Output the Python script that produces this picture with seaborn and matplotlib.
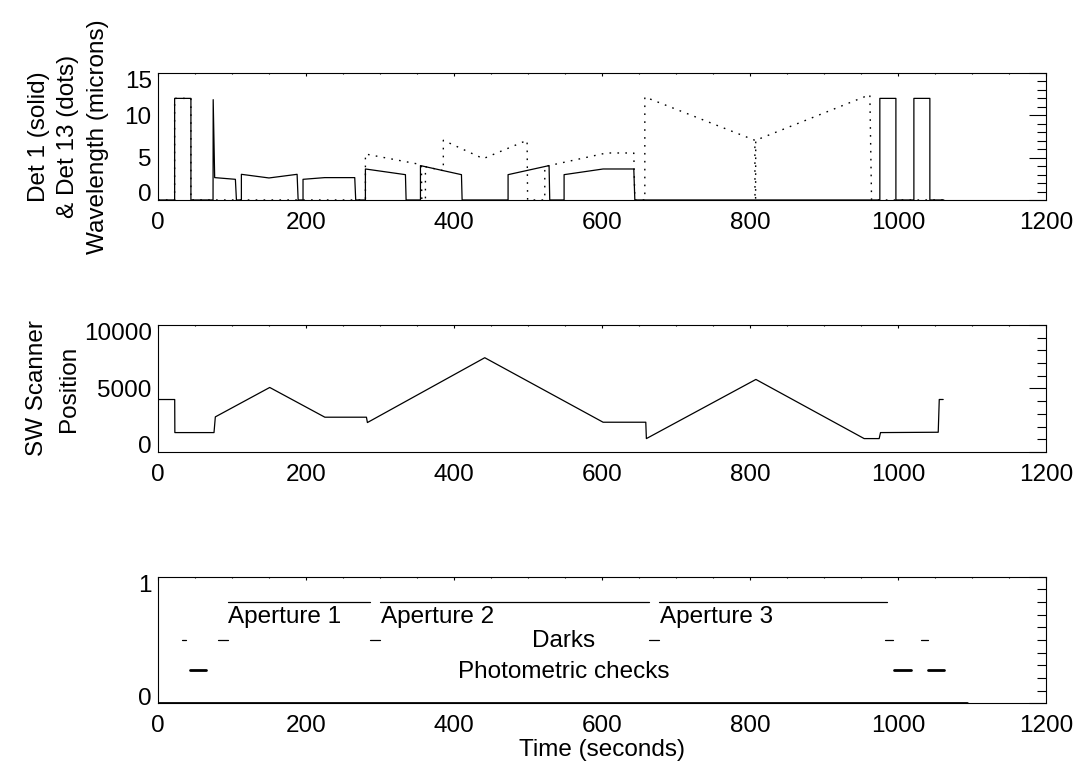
import pandas as pd
import matplotlib.pyplot as plt
import matplotlib.transforms as mtransforms
from matplotlib.ticker import MultipleLocator
import seaborn as sns

# Det 1 wavelength (solid line), time in seconds / microns
det1_t = [0, 22.5, 22.5, 44.5, 44.5, 74.4, 74.6, 76.6, 104.6, 106, 112.7, 112.7, 150, 188, 189.4,
          196, 196, 225.3, 265.9, 267.2, 280.3, 280.3, 334.4, 335.3, 354.7, 354.7, 410.1, 411,
          473.1, 473.1, 528.5, 529.4, 548.8, 548.8, 601.5, 643, 644.4, 975.5, 975.5, 997.2, 997.2,
          1021.5, 1021.5, 1043.1, 1043.1, 1062]
det1_um = [0, 0, 12.0, 12.0, 0, 0, 11.85, 2.64, 2.44, 0, 0, 3.03, 2.6, 3.03, 0,
           0, 2.44, 2.64, 2.64, 0, 0, 3.66, 2.99, 0, 0, 4.06, 2.99, 0,
           0, 2.99, 4.06, 0, 0, 2.99, 3.66, 3.66, 0, 0, 12.0, 12.0, 0,
           0, 12.0, 12.0, 0, 0]

# Det 13 wavelength (dots)
det13_t = [0, 22.5, 22.5, 44.5, 44.5, 280.3, 280.3, 356, 356.5, 361.4, 361.4, 385.6, 385.6, 439.6,
           498.8, 499.5, 522.7, 522.7, 528.5, 606.1, 643, 644.4, 657.9, 657.9, 806.6, 806.8,
           807.6, 807.8, 962, 964.3, 1062]
det13_um = [0, 0, 12.0, 12.0, 0, 0, 5.43, 4.17, 0, 0, 3.93, 3.46, 7.05, 4.88,
            7.05, 0, 0, 3.95, 4.06, 5.55, 5.55, 0, 0, 12.17, 7.05, 0,
            0, 7.05, 12.44, 0, 0]

# SW scanner position
scan_t = [0, 22.6, 22.8, 75.7, 77.5, 151, 225.5, 281.7, 283, 441.6, 601.5, 659.2, 660,
          808, 954.3, 974.6, 976.4, 1054.4, 1055.8, 1061.1]
scan_pos = [4130, 4130, 1526, 1526, 2763, 5079, 2737, 2737, 2316, 7421, 2342, 2342, 1053,
            5711, 1053, 1053, 1526, 1553, 4132, 4132]

# observation phases
aperture_names = ['Aperture 1', 'Aperture 2', 'Aperture 3']
aperture_start = [94, 300, 677.5]
aperture_end = [286, 664, 985.8]
dark_start = [32.9, 80.6, 286, 664, 982.3, 1031]
dark_end = [37.4, 95, 300, 677.5, 992.7, 1040]
phot_start = [43, 994.6, 1041.2]
phot_end = [64.5, 1017, 1062.8]
level_aperture = 0.8
level_dark = 0.5
level_phot = 0.26
timeline_end = 1093

sns.set_theme(style='white')
plt.rcParams['font.family'] = ['Liberation Sans', 'DejaVu Sans']
plt.rcParams['axes.edgecolor'] = 'black'
plt.rcParams['axes.linewidth'] = 0.8

fig = plt.figure(figsize=(10.74, 7.65), dpi=100)
left, width = 0.1471, 0.8268
ax1 = fig.add_axes([left, 0.7386, width, 0.166])
ax2 = fig.add_axes([left, 0.4092, width, 0.166])
ax3 = fig.add_axes([left, 0.0807, width, 0.1655])

FS = 17.5


def style_axis(ax, ymax, yticks, yminor):
    ax.set_xlim(0, 1200)
    ax.set_ylim(0, ymax)
    ax.set_xticks(range(0, 1201, 200))
    ax.xaxis.set_minor_locator(MultipleLocator(50))
    ax.set_yticks(yticks)
    ax.yaxis.set_minor_locator(MultipleLocator(yminor))
    ax.tick_params(which='both', direction='in', top=True, right=True,
                   color='black', width=0.8, labelsize=FS, labelcolor='black')
    ax.tick_params(axis='x', which='major', length=1.8, pad=8.5)
    ax.tick_params(axis='x', which='minor', length=1.0)
    ax.tick_params(axis='y', which='major', length=12.2, pad=4.5)
    ax.tick_params(axis='y', which='minor', length=6.4)
    ax.set_xlabel('')
    ax.set_ylabel('')
    ax.grid(False)
    # IDL style: end labels pulled inside the axis range
    labs = ax.get_yticklabels()
    up = mtransforms.ScaledTranslation(0, 0.07, fig.dpi_scale_trans)
    down = mtransforms.ScaledTranslation(0, -0.07, fig.dpi_scale_trans)
    labs[0].set_transform(labs[0].get_transform() + up)
    labs[-1].set_transform(labs[-1].get_transform() + down)


# --- top panel: wavelengths
sns.lineplot(x=det13_t, y=det13_um, ax=ax1, color='black', lw=1.0,
             linestyle=(0, (1.2, 4.5)), estimator=None, sort=False)
sns.lineplot(x=det1_t, y=det1_um, ax=ax1, color='black', lw=0.9,
             estimator=None, sort=False)
style_axis(ax1, 15, [0, 5, 10, 15], 1)
ax1.set_ylabel('Det 1 (solid)\n& Det 13 (dots)\nWavelength (microns)',
               fontsize=FS, linespacing=1.45, color='black')
ax1.yaxis.set_label_coords(-0.055, 0.5)

# --- middle panel: scanner position
sns.lineplot(x=scan_t, y=scan_pos, ax=ax2, color='black', lw=0.9,
             estimator=None, sort=False)
style_axis(ax2, 10000, [0, 5000, 10000], 1000)
ax2.set_ylabel('SW Scanner\nPosition', fontsize=FS, linespacing=1.55, color='black')
ax2.yaxis.set_label_coords(-0.088, 0.5)

# --- bottom panel: timeline of phases
rows = []
seg = 0
for s, e in zip(aperture_start, aperture_end):
    rows += [(seg, s, level_aperture), (seg, e, level_aperture)]
    seg += 1
for s, e in zip(dark_start, dark_end):
    rows += [(seg, s, level_dark), (seg, e, level_dark)]
    seg += 1
thin = pd.DataFrame(rows, columns=['seg', 't', 'level'])
rows = []
for s, e in zip(phot_start, phot_end):
    rows += [(seg, s, level_phot), (seg, e, level_phot)]
    seg += 1
thick = pd.DataFrame(rows, columns=['seg', 't', 'level'])

sns.lineplot(data=thin, x='t', y='level', units='seg', estimator=None, sort=False,
             ax=ax3, color='black', lw=0.9)
sns.lineplot(data=thick, x='t', y='level', units='seg', estimator=None, sort=False,
             ax=ax3, color='black', lw=2.0)
sns.lineplot(x=[0, timeline_end], y=[0, 0], ax=ax3, color='black', lw=2.0,
             estimator=None, sort=False)
style_axis(ax3, 1, [0, 1], 0.1)

for name, s in zip(aperture_names, aperture_start):
    ax3.text(s + 1, 0.636, name, fontsize=FS, ha='left', va='baseline', color='black')
ax3.text(548, 0.442, 'Darks', fontsize=FS, ha='center', va='baseline', color='black')
ax3.text(548, 0.197, 'Photometric checks', fontsize=FS, ha='center', va='baseline',
         color='black')
ax3.set_xlabel('Time (seconds)', fontsize=FS, color='black')
ax3.xaxis.set_label_coords(0.5, -0.285)

for ax in (ax1, ax2, ax3):
    for sp in ax.spines.values():
        sp.set_visible(True)
        sp.set_color('black')
        sp.set_linewidth(0.8)

fig.savefig('out.png', dpi=100, facecolor='white')
